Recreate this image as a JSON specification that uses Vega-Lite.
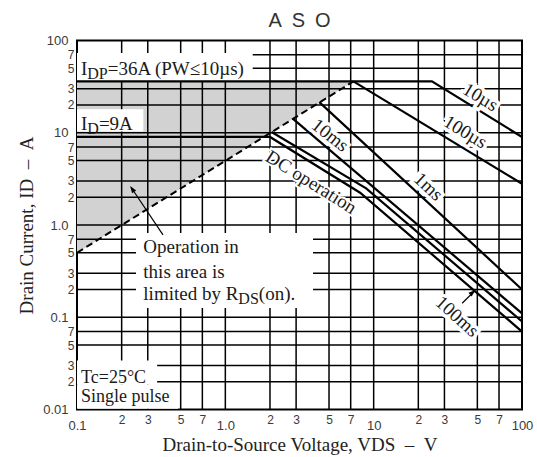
{
  "$schema": "https://vega.github.io/schema/vega-lite/v6.json",
  "width": 445,
  "height": 369,
  "autosize": {"type": "none"},
  "padding": {"left": 77, "top": 40.5, "right": 15, "bottom": 47.5},
  "background": "white",
  "title": {"text": "A\u2002S\u2002O", "font": "Liberation Sans", "fontSize": 20, "fontWeight": "normal", "color": "#333333", "offset": 4, "anchor": "middle"},
  "config": {
    "view": {"stroke": "black", "strokeWidth": 2},
    "axis": {
      "grid": false,
      "ticks": false, "domain": false,
      "labelFont": "Liberation Sans", "labelColor": "#3a3a3a",
      "labelFontSize": {"condition": {"test": "abs(log(datum.value)/LN10 - round(log(datum.value)/LN10)) < 0.001", "value": 13}, "value": 12},
      "labelOverlap": false, "labelFlush": false,
      "titleFont": "Liberation Serif", "titleFontSize": 19, "titleFontWeight": "normal", "titleColor": "#222222"
    }
  },
  "encoding": {
    "x": {
      "field": "x", "type": "quantitative",
      "scale": {"type": "log", "domain": [0.1, 100], "nice": false},
      "axis": {
        "title": "Drain-to-Source Voltage, VDS\u2002\u2013\u2002V",
        "values": [0.1, 0.2, 0.3, 0.5, 0.7, 1, 2, 3, 5, 7, 10, 20, 30, 50, 70, 100],
        "labelExpr": "datum.value == 0.1 ? '0.1' : datum.value == 1 ? '1.0' : datum.value == 10 ? '10' : datum.value == 100 ? '100' : '' + round(datum.value / pow(10, floor(log(datum.value)/LN10 + 1e-9)))",
        "labelPadding": {"condition": {"test": "abs(log(datum.value)/LN10 - round(log(datum.value)/LN10)) < 0.001", "value": 10}, "value": 5},
        "titlePadding": 3
      }
    },
    "y": {
      "field": "y", "type": "quantitative",
      "scale": {"type": "log", "domain": [0.01, 100], "nice": false},
      "axis": {
        "title": "Drain Current, ID\u2002\u2013\u2002A",
        "values": [0.01, 0.02, 0.03, 0.05, 0.07, 0.1, 0.2, 0.3, 0.5, 0.7, 1, 2, 3, 5, 7, 10, 20, 30, 50, 70, 100],
        "labelExpr": "datum.value == 0.01 ? '0.01' : datum.value == 0.1 ? '0.1' : datum.value == 1 ? '1.0' : datum.value == 10 ? '10' : datum.value == 100 ? '100' : '' + round(datum.value / pow(10, floor(log(datum.value)/LN10 + 1e-9)))",
        "labelPadding": {"condition": {"test": "abs(log(datum.value)/LN10 - round(log(datum.value)/LN10)) < 0.001", "value": 9}, "value": 3},
        "titlePadding": 6
      }
    }
  },
  "layer": [
    {
      "data": {"values": [{"x": 0.1, "y": 0.5, "y2": 36}, {"x": 7.3, "y": 36, "y2": 36}]},
      "mark": {"type": "area", "color": "#d2d2d2", "opacity": 1},
      "encoding": {"y2": {"field": "y2"}}
    },
    {
      "data": {"values": [
        {"x": 0.2, "y": 0.01, "y2": 100}, {"x": 0.3, "y": 0.01, "y2": 100}, {"x": 0.5, "y": 0.01, "y2": 100}, {"x": 0.7, "y": 0.01, "y2": 100},
        {"x": 1, "y": 0.01, "y2": 100}, {"x": 2, "y": 0.01, "y2": 100}, {"x": 3, "y": 0.01, "y2": 100}, {"x": 5, "y": 0.01, "y2": 100}, {"x": 7, "y": 0.01, "y2": 100},
        {"x": 10, "y": 0.01, "y2": 100}, {"x": 20, "y": 0.01, "y2": 100}, {"x": 30, "y": 0.01, "y2": 100}, {"x": 50, "y": 0.01, "y2": 100}, {"x": 70, "y": 0.01, "y2": 100}
      ]},
      "mark": {"type": "rule", "color": "black", "strokeWidth": 1.5},
      "encoding": {"y2": {"field": "y2"}}
    },
    {
      "data": {"values": [
        {"y": 0.02, "x": 0.1, "x2": 100}, {"y": 0.03, "x": 0.1, "x2": 100}, {"y": 0.05, "x": 0.1, "x2": 100}, {"y": 0.07, "x": 0.1, "x2": 100},
        {"y": 0.1, "x": 0.1, "x2": 100}, {"y": 0.2, "x": 0.1, "x2": 100}, {"y": 0.3, "x": 0.1, "x2": 100}, {"y": 0.5, "x": 0.1, "x2": 100}, {"y": 0.7, "x": 0.1, "x2": 100},
        {"y": 1, "x": 0.1, "x2": 100}, {"y": 2, "x": 0.1, "x2": 100}, {"y": 3, "x": 0.1, "x2": 100}, {"y": 5, "x": 0.1, "x2": 100}, {"y": 7, "x": 0.1, "x2": 100},
        {"y": 10, "x": 0.1, "x2": 100}, {"y": 20, "x": 0.1, "x2": 100}, {"y": 30, "x": 0.1, "x2": 100}, {"y": 50, "x": 0.1, "x2": 100}, {"y": 70, "x": 0.1, "x2": 100}
      ]},
      "mark": {"type": "rule", "color": "black", "strokeWidth": 1.5},
      "encoding": {"x2": {"field": "x2"}}
    },
    {
      "data": {"values": [
        {"x": 0.1, "x2": 1.53, "y": 36, "y2": 73},
        {"x": 0.1, "x2": 0.28, "y": 10.3, "y2": 18},
        {"x": 0.25, "x2": 3.9, "y": 0.126, "y2": 0.82},
        {"x": 0.1, "x2": 0.347, "y": 0.0185, "y2": 0.034},
        {"x": 0.1, "x2": 0.48, "y": 0.0102, "y2": 0.0185}
      ]},
      "mark": {"type": "rect", "color": "white"},
      "encoding": {"x2": {"field": "x2"}, "y2": {"field": "y2"}}
    },
    {
      "data": {"values": [{"x": 0.1, "y": 0.5}, {"x": 7.3, "y": 36}]},
      "mark": {"type": "line", "color": "black", "strokeWidth": 2, "strokeDash": [7, 4]},
      "encoding": {}
    },
    {"data": {"values": [{"x": 3.79, "y": 2.92, "t": "DC operation"}]}, "mark": {"type": "text", "font": "Liberation Serif", "fontSize": 19, "angle": 32, "fill": "white", "stroke": "white", "strokeWidth": 4}, "encoding": {"text": {"field": "t"}}},
    {
      "data": {"values": [
        {"s": "10us", "x": 0.1, "y": 36}, {"s": "10us", "x": 24.7, "y": 36}, {"s": "10us", "x": 100, "y": 9},
        {"s": "100us", "x": 7.3, "y": 36}, {"s": "100us", "x": 100, "y": 2.8},
        {"s": "1ms", "x": 4.3, "y": 21.5}, {"s": "1ms", "x": 100, "y": 0.2},
        {"s": "10ms", "x": 2.85, "y": 14.2}, {"s": "10ms", "x": 100, "y": 0.11},
        {"s": "100ms", "x": 2.05, "y": 10.2}, {"s": "100ms", "x": 8.9, "y": 2.5}, {"s": "100ms", "x": 100, "y": 0.09},
        {"s": "DC", "x": 0.1, "y": 9}, {"s": "DC", "x": 2.0, "y": 9}, {"s": "DC", "x": 8.1, "y": 2.24}, {"s": "DC", "x": 100, "y": 0.07}
      ]},
      "mark": {"type": "line", "color": "black", "strokeWidth": 2.2},
      "encoding": {"detail": {"field": "s"}}
    },
    {
      "data": {"values": [
        {"a": "area", "x": 0.38, "y": 0.78}, {"a": "area", "x": 0.232, "y": 2.55},
        {"a": "100ms", "x": 39.5, "y": 0.142}, {"a": "100ms", "x": 47.5, "y": 0.19}
      ]},
      "mark": {"type": "line", "color": "black", "strokeWidth": 1.2},
      "encoding": {"detail": {"field": "a"}}
    },
    {
      "data": {"values": [{"x": 0.228, "y": 2.64}]},
      "mark": {"type": "point", "shape": "M0,0L-0.35,1L0.35,1Z", "filled": true, "color": "black", "opacity": 1, "size": 200, "angle": 325}
    },
    {
      "data": {"values": [{"x": 48.5, "y": 0.198}]},
      "mark": {"type": "point", "shape": "M0,0L-0.35,1L0.35,1Z", "filled": true, "color": "black", "opacity": 1, "size": 200, "angle": 49}
    },
    {"data": {"values": [{"x": 52.4, "y": 24.3, "t": "10\u00b5s"}]}, "mark": {"type": "text", "font": "Liberation Serif", "fontSize": 19, "angle": 31, "fill": "white", "stroke": "white", "strokeWidth": 7}, "encoding": {"text": {"field": "t"}}},
    {"data": {"values": [{"x": 52.4, "y": 24.3, "t": "10\u00b5s"}]}, "mark": {"type": "text", "font": "Liberation Serif", "fontSize": 19, "angle": 31, "color": "#1a1a1a"}, "encoding": {"text": {"field": "t"}}},
    {"data": {"values": [{"x": 41.5, "y": 10.2, "t": "100\u00b5s"}]}, "mark": {"type": "text", "font": "Liberation Serif", "fontSize": 19, "angle": 31, "fill": "white", "stroke": "white", "strokeWidth": 7}, "encoding": {"text": {"field": "t"}}},
    {"data": {"values": [{"x": 41.5, "y": 10.2, "t": "100\u00b5s"}]}, "mark": {"type": "text", "font": "Liberation Serif", "fontSize": 19, "angle": 31, "color": "#1a1a1a"}, "encoding": {"text": {"field": "t"}}},
    {"data": {"values": [{"x": 23.4, "y": 2.6, "t": "1ms"}]}, "mark": {"type": "text", "font": "Liberation Serif", "fontSize": 19, "angle": 43, "fill": "white", "stroke": "white", "strokeWidth": 7}, "encoding": {"text": {"field": "t"}}},
    {"data": {"values": [{"x": 23.4, "y": 2.6, "t": "1ms"}]}, "mark": {"type": "text", "font": "Liberation Serif", "fontSize": 19, "angle": 43, "color": "#1a1a1a"}, "encoding": {"text": {"field": "t"}}},
    {"data": {"values": [{"x": 5.09, "y": 9.4, "t": "10ms"}]}, "mark": {"type": "text", "font": "Liberation Serif", "fontSize": 19, "angle": 38, "fill": "white", "stroke": "white", "strokeWidth": 7}, "encoding": {"text": {"field": "t"}}},
    {"data": {"values": [{"x": 5.09, "y": 9.4, "t": "10ms"}]}, "mark": {"type": "text", "font": "Liberation Serif", "fontSize": 19, "angle": 38, "color": "#1a1a1a"}, "encoding": {"text": {"field": "t"}}},
    {"data": {"values": [{"x": 3.79, "y": 2.92, "t": "DC operation"}]}, "mark": {"type": "text", "font": "Liberation Serif", "fontSize": 19, "angle": 32, "color": "#1a1a1a"}, "encoding": {"text": {"field": "t"}}},
    {"data": {"values": [{"x": 36.5, "y": 0.102, "t": "100ms"}]}, "mark": {"type": "text", "font": "Liberation Serif", "fontSize": 19, "angle": 42, "fill": "white", "stroke": "white", "strokeWidth": 7}, "encoding": {"text": {"field": "t"}}},
    {"data": {"values": [{"x": 36.5, "y": 0.102, "t": "100ms"}]}, "mark": {"type": "text", "font": "Liberation Serif", "fontSize": 19, "angle": 42, "color": "#1a1a1a"}, "encoding": {"text": {"field": "t"}}},
    {
      "data": {"values": [
        {"x": 0.1, "y": 42, "t": "I"},
        {"x": 0.1, "y": 10.66, "t": "I"}
      ]},
      "mark": {"type": "text", "font": "Liberation Serif", "fontSize": 19, "align": "left", "baseline": "alphabetic", "dx": 4, "color": "#1a1a1a"},
      "encoding": {"text": {"field": "t"}}
    },
    {
      "data": {"values": [
        {"x": 0.1, "y": 0.0195, "t": "Tc=25\u00b0C"},
        {"x": 0.1, "y": 0.0122, "t": "Single pulse"}
      ]},
      "mark": {"type": "text", "font": "Liberation Serif", "fontSize": 18, "align": "left", "baseline": "alphabetic", "dx": 4, "color": "#1a1a1a"},
      "encoding": {"text": {"field": "t"}}
    },
    {
      "data": {"values": [{"x": 0.1, "y": 42, "t": "DP"}, {"x": 0.1, "y": 10.66, "t": "D"}]},
      "mark": {"type": "text", "font": "Liberation Serif", "fontSize": 16, "align": "left", "baseline": "alphabetic", "dx": 10.3, "dy": 4, "color": "#1a1a1a"},
      "encoding": {"text": {"field": "t"}}
    },
    {
      "data": {"values": [{"x": 0.1, "y": 42, "t": "=36A (PW\u226410\u00b5s)"}]},
      "mark": {"type": "text", "font": "Liberation Serif", "fontSize": 19, "align": "left", "baseline": "alphabetic", "dx": 30.8, "color": "#1a1a1a"},
      "encoding": {"text": {"field": "t"}}
    },
    {
      "data": {"values": [{"x": 0.1, "y": 10.66, "t": "=9A"}]},
      "mark": {"type": "text", "font": "Liberation Serif", "fontSize": 19, "align": "left", "baseline": "alphabetic", "dx": 21.9, "color": "#1a1a1a"},
      "encoding": {"text": {"field": "t"}}
    },
    {
      "data": {"values": [
        {"x": 0.28, "y": 0.494, "t": "Operation in"},
        {"x": 0.28, "y": 0.265, "t": "this area is"},
        {"x": 0.28, "y": 0.154, "t": "limited by R"}
      ]},
      "mark": {"type": "text", "font": "Liberation Serif", "fontSize": 19, "align": "left", "baseline": "alphabetic", "color": "#1a1a1a"},
      "encoding": {"text": {"field": "t"}}
    },
    {
      "data": {"values": [{"x": 0.28, "y": 0.154, "t": "DS"}]},
      "mark": {"type": "text", "font": "Liberation Serif", "fontSize": 16, "align": "left", "baseline": "alphabetic", "dx": 95, "dy": 4, "color": "#1a1a1a"},
      "encoding": {"text": {"field": "t"}}
    },
    {
      "data": {"values": [{"x": 0.28, "y": 0.154, "t": "(on)."}]},
      "mark": {"type": "text", "font": "Liberation Serif", "fontSize": 19, "align": "left", "baseline": "alphabetic", "dx": 115.5, "color": "#1a1a1a"},
      "encoding": {"text": {"field": "t"}}
    }
  ]
}
